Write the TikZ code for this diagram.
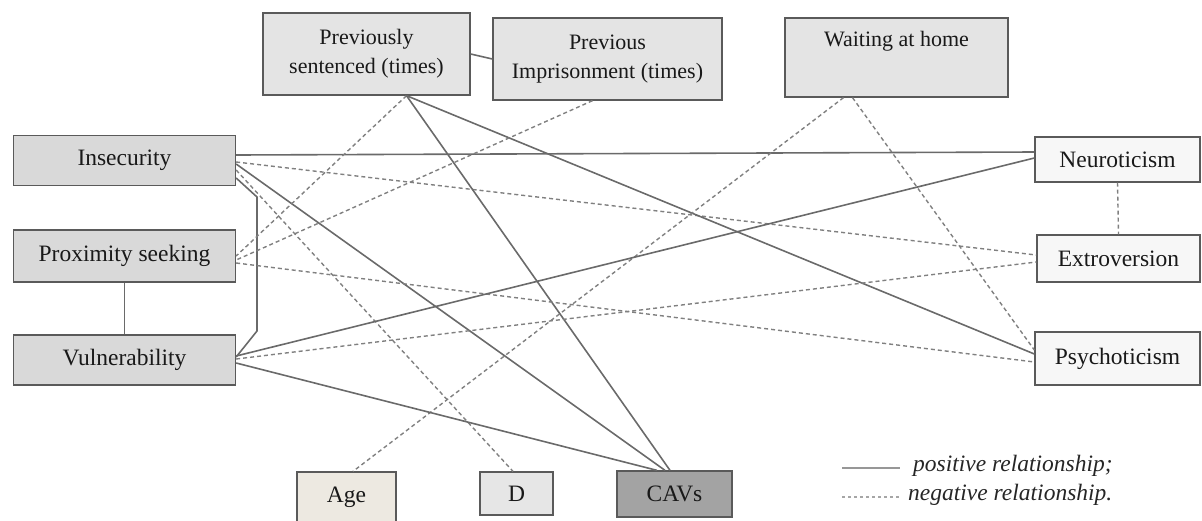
\documentclass[tikz,border=0pt]{standalone}
\usepackage{fontspec}
\setmainfont{Liberation Serif}
\definecolor{edge}{HTML}{5A5A5A}
\definecolor{ln}{HTML}{6A6A6A}
\definecolor{topfill}{HTML}{E4E4E4}
\definecolor{leftfill}{HTML}{D9D9D9}
\definecolor{rightfill}{HTML}{F7F7F7}
\definecolor{agefill}{HTML}{EDE9E1}
\definecolor{dfill}{HTML}{E6E6E6}
\definecolor{cavfill}{HTML}{A3A3A3}
\begin{document}
\begin{tikzpicture}[x=1pt,y=-1pt,
  box/.style={draw=edge,line width=1.3pt,inner sep=0pt,align=center,text=black!90,
    font=\fontsize{23.5}{29}\selectfont},
  topbox/.style={box,fill=topfill,font=\fontsize{22}{29}\selectfont},
  posline/.style={draw=ln,line width=1.6pt},
  negline/.style={draw=ln!85,line width=1.4pt,dash pattern=on 4pt off 3pt},
  legtext/.style={anchor=west,inner sep=0pt,font=\fontsize{23.5}{26}\selectfont\itshape,text=black!85}]
\useasboundingbox (0,0) rectangle (1202,520);
% boxes
\node[topbox,minimum width=207pt,minimum height=82pt] (ps) at (366.5,54) {Previously\\sentenced (times)};
\node[topbox,minimum width=229pt,minimum height=82pt] (pi) at (607.5,59) {Previous\\Imprisonment (times)};
\node[topbox,minimum width=223pt,minimum height=79pt] (wait) at (896.5,57.5) {Waiting at home\\\strut};
\node[box,fill=leftfill,minimum width=222pt,minimum height=50pt] (ins) at (124.5,160.5) {Insecurity};
\node[box,fill=leftfill,minimum width=222pt,minimum height=52pt] (prox) at (124.5,256) {Proximity seeking};
\node[box,fill=leftfill,minimum width=222pt,minimum height=50pt] (vul) at (124.5,360) {Vulnerability};
\node[box,fill=rightfill,minimum width=165pt,minimum height=45pt] (neu) at (1117.5,159.5) {Neuroticism};
\node[box,fill=rightfill,minimum width=163pt,minimum height=47pt] (ext) at (1118.5,258.5) {Extroversion};
\node[box,fill=rightfill,minimum width=165pt,minimum height=53pt] (psy) at (1117.5,358.5) {Psychoticism};
\node[box,fill=agefill,minimum width=99pt,minimum height=50pt] (age) at (346.5,497) {Age};
\node[box,fill=dfill,minimum width=73pt,minimum height=43pt] (d) at (516.5,493.5) {D};
\node[box,fill=cavfill,minimum width=115pt,minimum height=46pt] (cav) at (674.5,494) {CAVs};
% short links
\draw[posline] (ps.east) -- (pi.west);
\draw[posline] (prox.south) -- (vul.north);
\draw[negline] (neu.south) -- (ext.north);
\coordinate (bt) at (257,197);
\coordinate (bb) at (257,331);
\draw[posline] ([yshift=-17.5pt]ins.east) -- (bt) -- (bb) -- ([yshift=3pt]vul.east);
% insecurity
\draw[posline] ([yshift=5.5pt]ins.east) -- ([yshift=7.5pt]neu.west);
\draw[negline] ([yshift=-1.5pt]ins.east) -- ([yshift=3.5pt]ext.west);
\draw[posline] ([yshift=-3.5pt]ins.east) -- ([xshift=-9.5pt]cav.north);
\draw[negline] ([yshift=-9.5pt]ins.east) -- ([xshift=-3.5pt]d.north);
% previously sentenced
\draw[negline] ([xshift=40pt]ps.south) -- (prox.east);
\draw[posline] ([xshift=40pt]ps.south) -- ([xshift=-4.5pt]cav.north);
\draw[posline] ([xshift=40pt]ps.south) -- ([yshift=4.5pt]psy.west);
% previous imprisonment
\draw[negline] ([xshift=-15pt]pi.south) -- ([yshift=-4pt]prox.east);
% waiting at home
\draw[negline] ([xshift=-53pt]wait.south) -- ([xshift=6.5pt]age.north);
\draw[negline] ([xshift=-44pt]wait.south) -- ([yshift=8.5pt]psy.west);
% proximity
\draw[negline] ([yshift=-7pt]prox.east) -- ([yshift=-3.5pt]psy.west);
% vulnerability
\draw[posline] ([yshift=4pt]vul.east) -- ([yshift=1.5pt]neu.west);
\draw[negline] ([yshift=1pt]vul.east) -- ([yshift=-3.5pt]ext.west);
\draw[posline] ([yshift=-3pt]vul.east) -- ([xshift=-17.5pt]cav.north);
% legend
\coordinate (l1a) at (842,468);
\coordinate (l1b) at (900,468);
\coordinate (l2a) at (842,497);
\coordinate (l2b) at (900,497);
\draw[posline,draw=ln!70] (l1a) -- (l1b);
\draw[negline,draw=ln!60,line width=1.2pt,dash pattern=on 3pt off 3pt] (l2a) -- (l2b);
\node[legtext] (lpos) at (913,466) {positive relationship;};
\node[legtext] (lneg) at (908,495) {negative relationship.};
\end{tikzpicture}
\end{document}
